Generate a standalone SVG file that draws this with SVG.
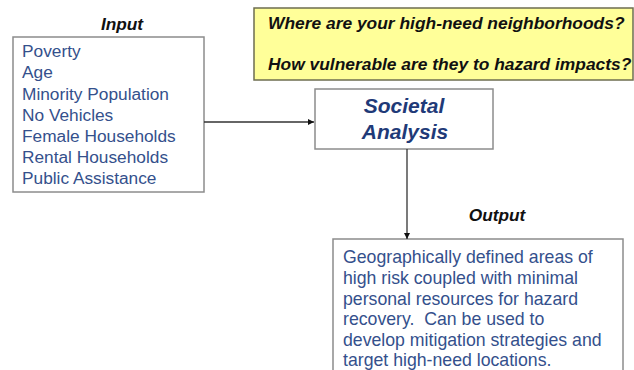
<svg xmlns="http://www.w3.org/2000/svg" width="634" height="370" viewBox="0 0 634 370">
  <style>
    .box { fill: #ffffff; stroke: #8c8c8c; stroke-width: 1.5; }
    .note { fill: #ffff99; stroke: #6e6e50; stroke-width: 1.5; }
    .label { font-family: "Liberation Sans", Arial, sans-serif; font-size: 17.3px; font-weight: bold; font-style: italic; fill: #111111; }
    .q { font-family: "Liberation Sans", Arial, sans-serif; font-size: 17.4px; font-weight: bold; font-style: italic; fill: #111111; }
    .body { font-family: "Liberation Sans", Arial, sans-serif; font-size: 17.3px; fill: #34508c; }
    .out { font-family: "Liberation Sans", Arial, sans-serif; font-size: 17.7px; fill: #34508c; }
    .title { font-family: "Liberation Sans", Arial, sans-serif; font-size: 21px; font-weight: bold; font-style: italic; fill: #1f3a78; text-anchor: middle; }
    .wire { fill: none; stroke: #333333; stroke-width: 1.3; }
  </style>
  <defs>
    <marker id="head" viewBox="0 0 10 10" refX="10" refY="5" markerWidth="6" markerHeight="6" orient="auto" markerUnits="userSpaceOnUse">
      <path d="M0,0 L10,5 L0,10 z" fill="#111111"/>
    </marker>
  </defs>
  <rect width="634" height="370" fill="#ffffff"/>

  <!-- question banner -->
  <g id="questions">
    <rect class="note" x="254" y="8" width="379" height="72"/>
    <text class="q" x="268" y="29">Where are your high-need neighborhoods?</text>
    <text class="q" x="268" y="70">How vulnerable are they to hazard impacts?</text>
  </g>

  <!-- input factors -->
  <g id="input">
    <text class="label" x="122" y="30" text-anchor="middle">Input</text>
    <rect class="box" x="13" y="37" width="191" height="155"/>
    <text class="body" x="22" y="57">Poverty</text>
    <text class="body" x="22" y="78">Age</text>
    <text class="body" x="22" y="100">Minority Population</text>
    <text class="body" x="22" y="121">No Vehicles</text>
    <text class="body" x="22" y="142">Female Households</text>
    <text class="body" x="22" y="163">Rental Households</text>
    <text class="body" x="22" y="184">Public Assistance</text>
  </g>

  <!-- analysis step -->
  <g id="analysis">
    <rect class="box" x="315" y="89" width="178" height="60"/>
    <text class="title" x="404" y="113">Societal</text>
    <text class="title" x="405" y="139">Analysis</text>
  </g>

  <!-- result -->
  <g id="output">
    <text class="label" x="497" y="221" text-anchor="middle">Output</text>
    <rect class="box" x="333" y="239" width="290" height="140"/>
    <text class="out" x="343" y="263">Geographically defined areas of</text>
    <text class="out" x="343" y="284">high risk coupled with minimal</text>
    <text class="out" x="343" y="305">personal resources for hazard</text>
    <text class="out" x="343" y="325" xml:space="preserve">recovery.  Can be used to</text>
    <text class="out" x="343" y="346">develop mitigation strategies and</text>
    <text class="out" x="343" y="366">target high-need locations.</text>
  </g>

  <!-- connectors -->
  <g id="connectors">
    <line class="wire" x1="204" y1="122" x2="314" y2="122" marker-end="url(#head)"/>
    <line class="wire" x1="407" y1="149" x2="407" y2="239" marker-end="url(#head)"/>
  </g>
</svg>
